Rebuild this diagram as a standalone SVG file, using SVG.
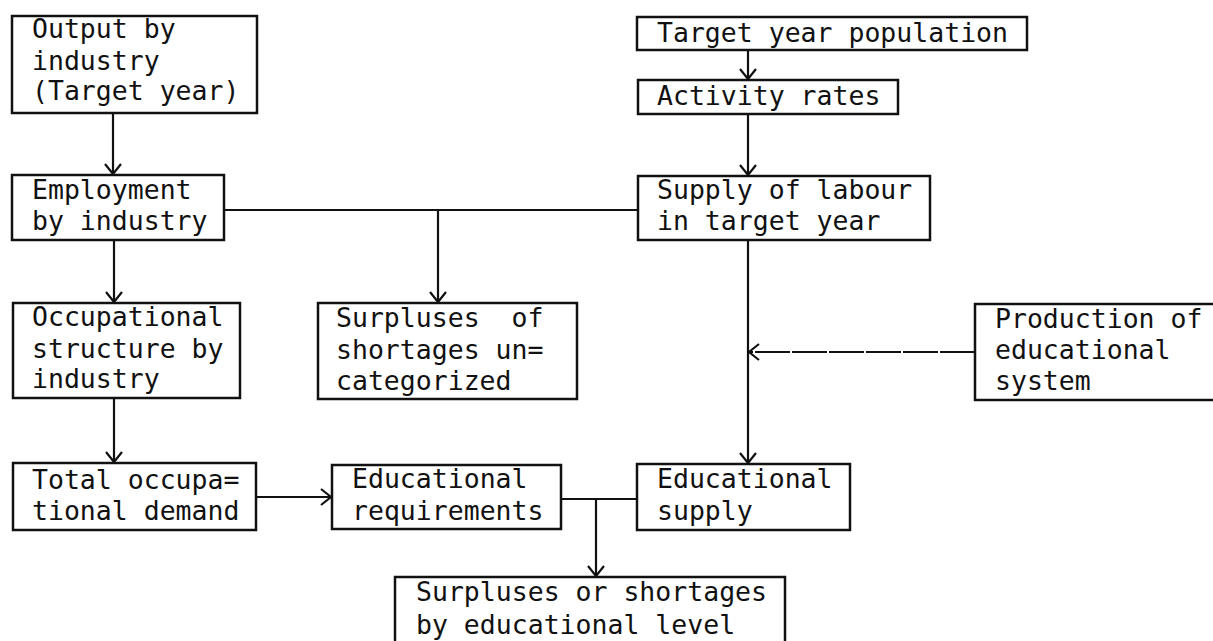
<svg xmlns="http://www.w3.org/2000/svg" width="1213" height="641" viewBox="0 0 1213 641">
<style>
.box{fill:none;stroke:#111;stroke-width:2.5}
.t{font-family:"DejaVu Sans Mono","Liberation Mono",monospace;font-size:26.5px;fill:#111;white-space:pre}
.c{fill:none;stroke:#111;stroke-width:2.2}
</style>
<defs>
<marker id="arr" viewBox="-12 -10 14 20" markerWidth="14" markerHeight="20" refX="0" refY="0" orient="auto" markerUnits="userSpaceOnUse">
<path d="M-10,-8 L0,0 L-10,8" fill="none" stroke="#111" stroke-width="2.2"/>
</marker>
</defs>
<rect width="1213" height="641" fill="#fff"/>
<g id="connectors">
<path class="c" d="M113,113 V174" marker-end="url(#arr)"/>
<path class="c" d="M748,50 V79" marker-end="url(#arr)"/>
<path class="c" d="M748,114 V175" marker-end="url(#arr)"/>
<path class="c" d="M224,210 H638"/>
<path class="c" d="M438,210 V302" marker-end="url(#arr)"/>
<path class="c" d="M114,240 V302" marker-end="url(#arr)"/>
<path class="c" d="M114,398 V462" marker-end="url(#arr)"/>
<path class="c" d="M748,240 V463" marker-end="url(#arr)"/>
<path class="c" d="M975,352 H749" stroke-dasharray="35 2" marker-end="url(#arr)"/>
<path class="c" d="M256,497 H331" marker-end="url(#arr)"/>
<path class="c" d="M561,499 H637"/>
<path class="c" d="M596,499 V576" marker-end="url(#arr)"/>
</g>
<g id="n-output">
<rect class="box" x="12" y="16" width="245" height="97"/>
<text class="t" x="32" y="38">Output by</text>
<text class="t" x="32" y="70">industry</text>
<text class="t" x="32" y="100">(Target year)</text>
</g>
<g id="n-employment">
<rect class="box" x="12" y="175" width="212" height="65"/>
<text class="t" x="32" y="199">Employment</text>
<text class="t" x="32" y="230">by industry</text>
</g>
<g id="n-occupational">
<rect class="box" x="13" y="303" width="227" height="95"/>
<text class="t" x="32" y="326">Occupational</text>
<text class="t" x="32" y="358">structure by</text>
<text class="t" x="32" y="388">industry</text>
</g>
<g id="n-total">
<rect class="box" x="13" y="463" width="243" height="67"/>
<text class="t" x="32" y="489">Total occupa=</text>
<text class="t" x="32" y="520">tional demand</text>
</g>
<g id="n-surpluses-uncat">
<rect class="box" x="318" y="303" width="259" height="96"/>
<text class="t" x="336" y="327">Surpluses  of</text>
<text class="t" x="336" y="359">shortages un=</text>
<text class="t" x="336" y="390">categorized</text>
</g>
<g id="n-edreq">
<rect class="box" x="332" y="465" width="229" height="64"/>
<text class="t" x="352" y="488">Educational</text>
<text class="t" x="352" y="520">requirements</text>
</g>
<g id="n-target-pop">
<rect class="box" x="637" y="17" width="390" height="33"/>
<text class="t" x="657" y="42">Target year population</text>
</g>
<g id="n-activity">
<rect class="box" x="638" y="80" width="260" height="34"/>
<text class="t" x="657" y="105">Activity rates</text>
</g>
<g id="n-supply">
<rect class="box" x="638" y="176" width="292" height="64"/>
<text class="t" x="657" y="199">Supply of labour</text>
<text class="t" x="657" y="230">in target year</text>
</g>
<g id="n-production">
<rect class="box" x="975" y="304" width="260" height="96"/>
<text class="t" x="995" y="328">Production of</text>
<text class="t" x="995" y="359">educational</text>
<text class="t" x="995" y="390">system</text>
</g>
<g id="n-edsupply">
<rect class="box" x="637" y="464" width="213" height="66"/>
<text class="t" x="657" y="488">Educational</text>
<text class="t" x="657" y="520">supply</text>
</g>
<g id="n-surpluses-edlevel">
<rect class="box" x="395" y="577" width="390" height="75"/>
<text class="t" x="416" y="601">Surpluses or shortages</text>
<text class="t" x="416" y="634">by educational level</text>
</g>
</svg>
